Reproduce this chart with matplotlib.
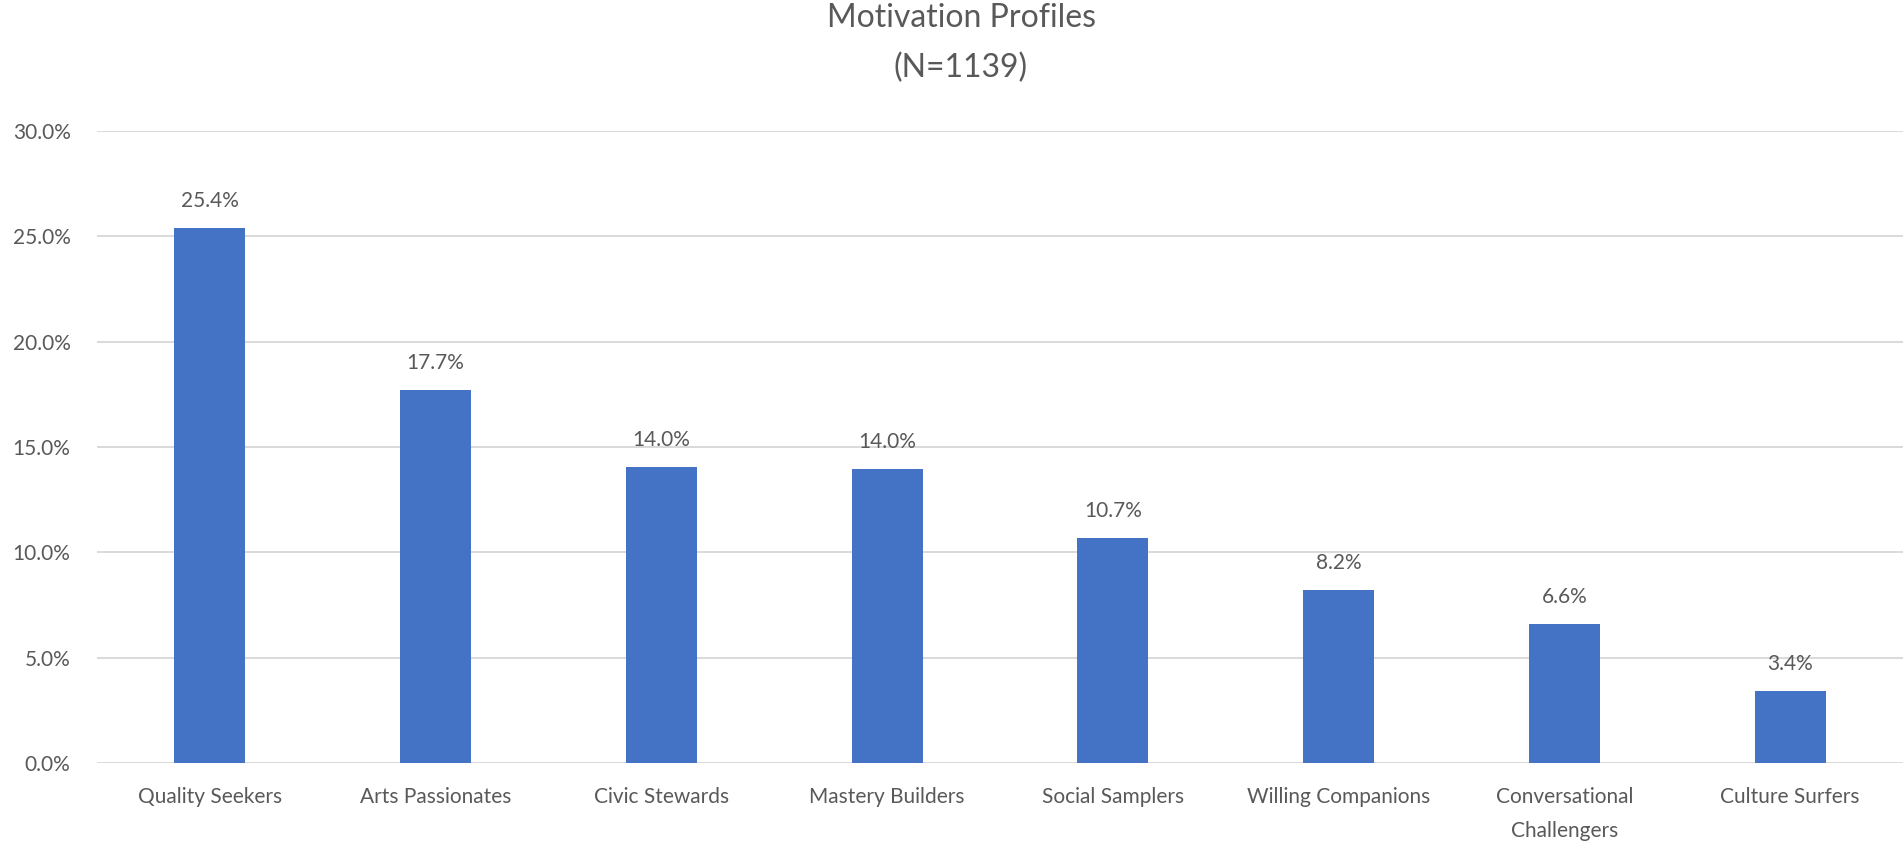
import matplotlib
matplotlib.use("Agg")
import matplotlib.pyplot as plt
from matplotlib.ticker import FuncFormatter

# profiles and share of respondents (%)
profiles = ["Quality Seekers", "Arts Passionates", "Civic Stewards", "Mastery Builders",
            "Social Samplers", "Willing Companions", "Conversational\nChallengers", "Culture Surfers"]
shares = [25.4, 17.7, 14.04, 13.97, 10.7, 8.2, 6.6, 3.4]

txt = "#595959"
plt.rcParams['font.family'] = ['Lato', 'DejaVu Sans']

fig = plt.figure(figsize=(19.03, 8.47), dpi=100)
ax = fig.add_axes([97/1903, 1 - 763/847, 1 - 97/1903, (763 - 131)/847])

x = range(len(profiles))
bars = ax.bar(x, shares, width=0.314, color="#4472C4", zorder=3)

for xi, v in zip(x, shares):
    ax.annotate(f"{v:.1f}%", (xi, v), xytext=(0, 19.5), textcoords="offset points",
                ha="center", va="center", fontsize=15, color=txt)

ax.set_xlim(-0.5, len(profiles) - 0.5)
ax.set_ylim(0, 30)
ax.set_yticks([0, 5, 10, 15, 20, 25, 30])
ax.yaxis.set_major_formatter(FuncFormatter(lambda v, p: f"{v:.1f}%"))
ax.grid(axis="y", color="#D9D9D9", linewidth=1.4, zorder=0)
ax.set_xticks(list(x))
ax.set_xticklabels(profiles, linespacing=1.9)
ax.tick_params(axis="both", length=0, labelsize=15, labelcolor=txt)
ax.tick_params(axis="x", pad=17)
ax.tick_params(axis="y", pad=19)
for s in ax.spines.values():
    s.set_visible(False)

fig.text(0.505, 1 - 18/847, "Motivation Profiles", ha="center", va="center", fontsize=23, color=txt)
fig.text(0.505, 1 - 68/847, "(N=1139)", ha="center", va="center", fontsize=23, color=txt)

fig.savefig("out.png", dpi=100)
